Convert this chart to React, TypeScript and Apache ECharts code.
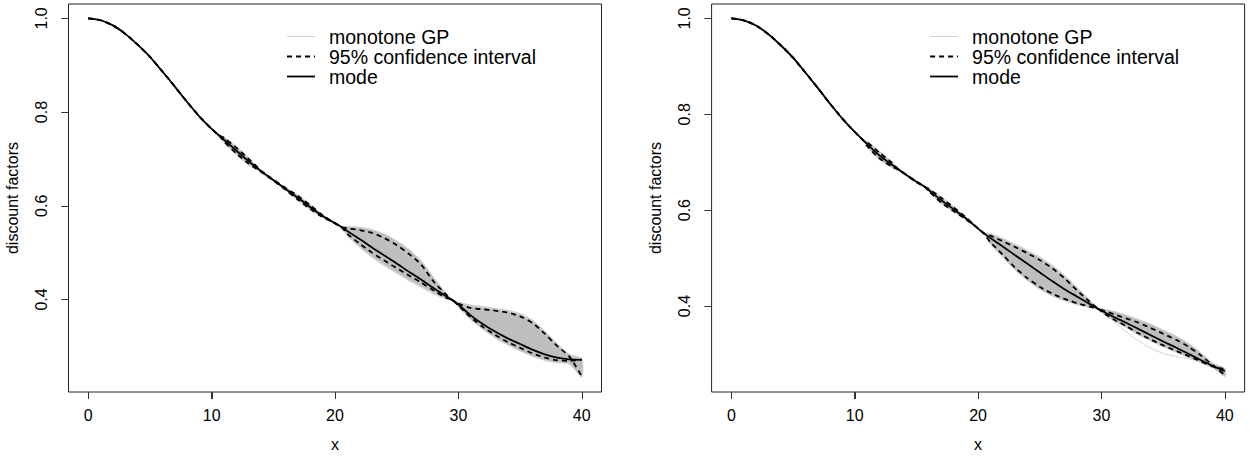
import React, { useEffect, useRef } from "react";
import * as echarts from "echarts";

// ---------- data ----------
const xTicks = [0, 10, 20, 30, 40];
const yTicks = [0.4, 0.6, 0.8, 1.0];

const leftX = [0, 1, 2, 3, 4, 5, 6, 7, 8, 9, 10, 10.6, 11, 12, 13, 14.2, 15, 16, 17, 18, 19, 20.5, 21, 22, 23, 24, 25, 26, 27, 28, 29, 29.5, 30, 31, 32, 33, 34, 35, 36, 37, 38, 39, 40];
const leftMode = [1.0, 0.996, 0.985, 0.967, 0.944, 0.918, 0.887, 0.855, 0.822, 0.791, 0.764, 0.75, 0.741, 0.718, 0.695, 0.67, 0.655, 0.636, 0.617, 0.597, 0.578, 0.555, 0.546, 0.529, 0.511, 0.494, 0.477, 0.459, 0.442, 0.424, 0.407, 0.399, 0.389, 0.366, 0.347, 0.331, 0.317, 0.305, 0.293, 0.283, 0.276, 0.272, 0.271];
const leftUpper = [1.0, 0.996, 0.985, 0.967, 0.944, 0.918, 0.887, 0.855, 0.822, 0.791, 0.764, 0.75, 0.745, 0.724, 0.7, 0.671, 0.656, 0.638, 0.621, 0.601, 0.58, 0.555, 0.552, 0.548, 0.542, 0.531, 0.516, 0.497, 0.474, 0.438, 0.411, 0.399, 0.391, 0.382, 0.379, 0.376, 0.372, 0.364, 0.35, 0.327, 0.301, 0.278, 0.236];
const leftLower = [1.0, 0.996, 0.985, 0.967, 0.944, 0.918, 0.887, 0.855, 0.822, 0.791, 0.764, 0.75, 0.737, 0.712, 0.69, 0.669, 0.654, 0.634, 0.613, 0.593, 0.576, 0.555, 0.54, 0.519, 0.5, 0.483, 0.467, 0.451, 0.436, 0.419, 0.404, 0.399, 0.387, 0.362, 0.341, 0.324, 0.309, 0.297, 0.285, 0.276, 0.27, 0.269, 0.272];
const leftBandTop = [1.0, 0.996, 0.985, 0.967, 0.944, 0.918, 0.887, 0.855, 0.822, 0.791, 0.764, 0.751, 0.747, 0.727, 0.703, 0.671, 0.656, 0.639, 0.623, 0.603, 0.581, 0.556, 0.556, 0.554, 0.549, 0.54, 0.525, 0.507, 0.482, 0.447, 0.414, 0.4, 0.395, 0.388, 0.385, 0.381, 0.377, 0.37, 0.356, 0.333, 0.306, 0.283, 0.273];
const leftBandBottom = [1.0, 0.996, 0.985, 0.967, 0.944, 0.918, 0.887, 0.855, 0.822, 0.791, 0.764, 0.749, 0.735, 0.709, 0.687, 0.669, 0.654, 0.633, 0.611, 0.591, 0.575, 0.554, 0.536, 0.511, 0.49, 0.472, 0.456, 0.44, 0.426, 0.412, 0.401, 0.398, 0.384, 0.357, 0.336, 0.318, 0.303, 0.29, 0.279, 0.27, 0.265, 0.262, 0.234];
const leftSample = [1.0, 0.996, 0.985, 0.967, 0.944, 0.918, 0.887, 0.855, 0.822, 0.791, 0.764, 0.75, 0.741, 0.718, 0.695, 0.67, 0.655, 0.636, 0.617, 0.597, 0.578, 0.555, 0.538, 0.513, 0.492, 0.474, 0.458, 0.442, 0.428, 0.414, 0.402, 0.399, 0.394, 0.386, 0.383, 0.379, 0.375, 0.368, 0.354, 0.331, 0.304, 0.281, 0.272];

const rightX = [0, 1, 2, 3, 4, 5, 6, 7, 8, 9, 10, 10.8, 11, 12, 13, 13.7, 15, 15.6, 16, 17, 18, 19, 20.4, 21, 22, 23, 24, 25, 26, 27, 28, 29, 29.8, 30, 31, 32, 33, 34, 35, 36, 37, 38, 39, 40];
const rightMode = [1.0, 0.996, 0.985, 0.967, 0.944, 0.918, 0.887, 0.855, 0.822, 0.791, 0.763, 0.743, 0.738, 0.714, 0.695, 0.682, 0.659, 0.65, 0.642, 0.621, 0.602, 0.583, 0.553, 0.542, 0.524, 0.506, 0.488, 0.47, 0.452, 0.435, 0.42, 0.405, 0.393, 0.39, 0.377, 0.365, 0.352, 0.339, 0.326, 0.314, 0.301, 0.288, 0.275, 0.264];
const rightUpper = [1.0, 0.996, 0.985, 0.967, 0.944, 0.918, 0.887, 0.855, 0.822, 0.791, 0.763, 0.743, 0.742, 0.72, 0.699, 0.682, 0.66, 0.65, 0.644, 0.626, 0.606, 0.585, 0.553, 0.547, 0.535, 0.523, 0.51, 0.496, 0.479, 0.458, 0.433, 0.41, 0.393, 0.392, 0.383, 0.374, 0.365, 0.354, 0.342, 0.33, 0.316, 0.298, 0.277, 0.256];
const rightLower = [1.0, 0.996, 0.985, 0.967, 0.944, 0.918, 0.887, 0.855, 0.822, 0.791, 0.763, 0.743, 0.734, 0.708, 0.691, 0.682, 0.658, 0.65, 0.64, 0.616, 0.598, 0.581, 0.553, 0.533, 0.507, 0.48, 0.458, 0.44, 0.426, 0.415, 0.406, 0.399, 0.393, 0.388, 0.372, 0.358, 0.343, 0.33, 0.318, 0.307, 0.296, 0.285, 0.274, 0.268];
const rightBandTop = [1.0, 0.996, 0.985, 0.967, 0.944, 0.918, 0.887, 0.855, 0.822, 0.791, 0.763, 0.744, 0.744, 0.723, 0.701, 0.683, 0.661, 0.651, 0.646, 0.628, 0.608, 0.586, 0.554, 0.551, 0.541, 0.529, 0.516, 0.502, 0.485, 0.464, 0.439, 0.414, 0.394, 0.394, 0.389, 0.381, 0.372, 0.362, 0.35, 0.338, 0.323, 0.304, 0.281, 0.27];
const rightBandBottom = [1.0, 0.996, 0.985, 0.967, 0.944, 0.918, 0.887, 0.855, 0.822, 0.791, 0.763, 0.742, 0.732, 0.705, 0.689, 0.681, 0.657, 0.649, 0.638, 0.614, 0.596, 0.58, 0.552, 0.529, 0.502, 0.475, 0.453, 0.435, 0.421, 0.411, 0.403, 0.397, 0.392, 0.386, 0.369, 0.355, 0.34, 0.327, 0.315, 0.304, 0.293, 0.282, 0.271, 0.253];
const rightSample = [1.0, 0.996, 0.985, 0.967, 0.944, 0.918, 0.887, 0.855, 0.822, 0.791, 0.763, 0.743, 0.741, 0.719, 0.697, 0.682, 0.659, 0.65, 0.643, 0.624, 0.604, 0.584, 0.553, 0.549, 0.54, 0.528, 0.515, 0.5, 0.483, 0.461, 0.436, 0.411, 0.393, 0.389, 0.368, 0.346, 0.327, 0.312, 0.301, 0.295, 0.29, 0.285, 0.276, 0.262];

const legendLabels = ["monotone GP", "95% confidence interval", "mode"];
const xName = "x";
const yName = "discount factors";

// ---------- style / layout ----------
const FONT = "'Liberation Sans', Arial, Helvetica, sans-serif";
const TICK_FS = 16;
const LEGEND_FS = 19.5;
const GRID_W = 533;
const GRID_H = 388;
const GRID_TOP = 4;
const GRID_LEFTS = [68.5, 711.6];
const X_RANGE = [-1.6, 41.6];
const Y_RANGES = [
  [0.2025, 1.0307],
  [0.2206, 1.03],
];
const BAND_FILL = "#bebebe";
const LIGHT = "#d3d3d3";
const AXIS_COLOR = "#222";
const TICK_COLOR = "#333";
const TICK_LEN = 7;

function pairs(xs: number[], ys: number[]) {
  return xs.map((x, i) => [x, ys[i]]);
}

function bandSeries(xs: number[], lo: number[], hi: number[], idx: number) {
  return {
    type: "custom",
    xAxisIndex: idx,
    yAxisIndex: idx,
    silent: true,
    z: 1,
    data: xs.map((x, i) => [x, lo[i], hi[i]]),
    encode: { x: 0, y: [1, 2] },
    renderItem: (params: any, api: any) => {
      if (params.dataIndex !== 0) return null;
      const top = xs.map((x, i) => api.coord([x, hi[i]]));
      const bot = xs.map((x, i) => api.coord([x, lo[i]])).reverse();
      return {
        type: "polygon",
        shape: { points: top.concat(bot), smooth: 0.25 },
        style: { fill: BAND_FILL, stroke: LIGHT, lineWidth: 1 },
      };
    },
  };
}

function lineSeries(xs: number[], ys: number[], idx: number, color: string, width: number, dashed: boolean, z: number) {
  return {
    type: "line",
    xAxisIndex: idx,
    yAxisIndex: idx,
    data: pairs(xs, ys),
    showSymbol: false,
    symbol: "none",
    smooth: 0.25,
    silent: true,
    z,
    lineStyle: { color, width, type: dashed ? [5, 4] : "solid", cap: "butt" },
  };
}

function legendGraphics(offsetX: number) {
  const lx1 = 287 + offsetX;
  const lx2 = 315 + offsetX;
  const tx = 329 + offsetX;
  const rows = [36.5, 56.5, 76.5];
  const styles = [
    { stroke: LIGHT, lineWidth: 1, lineDash: null as any },
    { stroke: "#000", lineWidth: 1.8, lineDash: [5, 4] },
    { stroke: "#000", lineWidth: 1.8, lineDash: null as any },
  ];
  const out: any[] = [];
  rows.forEach((y, i) => {
    out.push({
      type: "line",
      shape: { x1: lx1, y1: y, x2: lx2, y2: y },
      style: { stroke: styles[i].stroke, lineWidth: styles[i].lineWidth, lineDash: styles[i].lineDash },
      silent: true,
    });
    out.push({
      type: "text",
      x: tx,
      y: y,
      style: {
        text: legendLabels[i],
        fill: "#000",
        fontSize: LEGEND_FS,
        fontFamily: FONT,
        lineHeight: 19,
        verticalAlign: "middle",
        align: "left",
      },
      silent: true,
    });
  });
  return out;
}

// pixel of a value on an axis, via the chart's own scale (fallback: linear map of the grid)
function axisPx(chart: any, kind: "x" | "y", g: number, v: number) {
  const finder = kind === "x" ? { xAxisIndex: g } : { yAxisIndex: g };
  let p: any = null;
  try {
    p = chart.convertToPixel(finder, v);
  } catch (e) {
    p = null;
  }
  if (typeof p === "number" && isFinite(p)) return p;
  if (kind === "x") {
    return GRID_LEFTS[g] + ((v - X_RANGE[0]) / (X_RANGE[1] - X_RANGE[0])) * GRID_W;
  }
  const [lo, hi] = Y_RANGES[g];
  return GRID_TOP + ((hi - v) / (hi - lo)) * GRID_H;
}

// R-style outward tick marks
function tickGraphics(chart: any) {
  const out: any[] = [];
  [0, 1].forEach((g) => {
    const bottom = axisPx(chart, "y", g, Y_RANGES[g][0]);
    const left = axisPx(chart, "x", g, X_RANGE[0]);
    xTicks.forEach((t) => {
      const x = Math.round(axisPx(chart, "x", g, t)) + 0.5;
      out.push({
        type: "line",
        z: 100,
        shape: { x1: x, y1: bottom, x2: x, y2: bottom + TICK_LEN },
        style: { stroke: TICK_COLOR, lineWidth: 1 },
        silent: true,
      });
    });
    yTicks.forEach((t) => {
      const y = Math.round(axisPx(chart, "y", g, t)) + 0.5;
      out.push({
        type: "line",
        z: 100,
        shape: { x1: left - TICK_LEN, y1: y, x2: left, y2: y },
        style: { stroke: TICK_COLOR, lineWidth: 1 },
        silent: true,
      });
    });
  });
  return out;
}

export default function App() {
  const ref = useRef<HTMLDivElement>(null);

  useEffect(() => {
    if (!ref.current) return;
    const chart = echarts.init(ref.current, null, { renderer: "svg" });

    const grids = GRID_LEFTS.map((left) => ({
      left,
      top: GRID_TOP,
      width: GRID_W,
      height: GRID_H,
      show: true,
      borderColor: AXIS_COLOR,
      borderWidth: 1,
      backgroundColor: "transparent",
      containLabel: false,
    }));

    const xAxes = [0, 1].map((i) => ({
      gridIndex: i,
      type: "value",
      min: X_RANGE[0],
      max: X_RANGE[1],
      axisLine: { show: false, onZero: false },
      splitLine: { show: false },
      axisTick: { show: true, inside: false, length: TICK_LEN, customValues: xTicks, lineStyle: { color: TICK_COLOR, width: 1 } },
      axisLabel: { customValues: xTicks, margin: 15, fontSize: TICK_FS, fontFamily: FONT, color: "#000" },
      name: xName,
      nameLocation: "middle",
      nameGap: 44,
      nameTextStyle: { fontSize: TICK_FS, fontFamily: FONT, color: "#000" },
    }));

    const yAxes = [0, 1].map((i) => ({
      gridIndex: i,
      type: "value",
      min: Y_RANGES[i][0],
      max: Y_RANGES[i][1],
      axisLine: { show: false, onZero: false },
      splitLine: { show: false },
      axisTick: { show: true, inside: false, length: TICK_LEN, customValues: yTicks, lineStyle: { color: TICK_COLOR, width: 1 } },
      axisLabel: {
        customValues: yTicks,
        rotate: 90,
        margin: 19,
        fontSize: TICK_FS,
        fontFamily: FONT,
        color: "#000",
        formatter: (v: number) => v.toFixed(1),
      },
      name: yName,
      nameLocation: "middle",
      nameGap: 48.5,
      nameTextStyle: { fontSize: TICK_FS, fontFamily: FONT, color: "#000" },
    }));

    const series: any[] = [
      bandSeries(leftX, leftBandBottom, leftBandTop, 0),
      lineSeries(leftX, leftSample, 0, LIGHT, 1, false, 2),
      lineSeries(leftX, leftUpper, 0, "#000", 1.8, true, 3),
      lineSeries(leftX, leftLower, 0, "#000", 1.8, true, 3),
      lineSeries(leftX, leftMode, 0, "#000", 1.8, false, 4),
      bandSeries(rightX, rightBandBottom, rightBandTop, 1),
      lineSeries(rightX, rightSample, 1, LIGHT, 1, false, 2),
      lineSeries(rightX, rightUpper, 1, "#000", 1.8, true, 3),
      lineSeries(rightX, rightLower, 1, "#000", 1.8, true, 3),
      lineSeries(rightX, rightMode, 1, "#000", 1.8, false, 4),
    ];

    chart.setOption({
      animation: false,
      backgroundColor: "#fff",
      grid: grids,
      xAxis: xAxes,
      yAxis: yAxes,
      series,
    });

    chart.setOption({
      graphic: {
        elements: [...legendGraphics(0), ...legendGraphics(643.1), ...tickGraphics(chart)],
      },
    });

    return () => chart.dispose();
  }, []);

  return (
    <div
      ref={ref}
      style={{ position: "fixed", left: 0, top: 0, width: 1250, height: 457, background: "#fff" }}
    />
  );
}
